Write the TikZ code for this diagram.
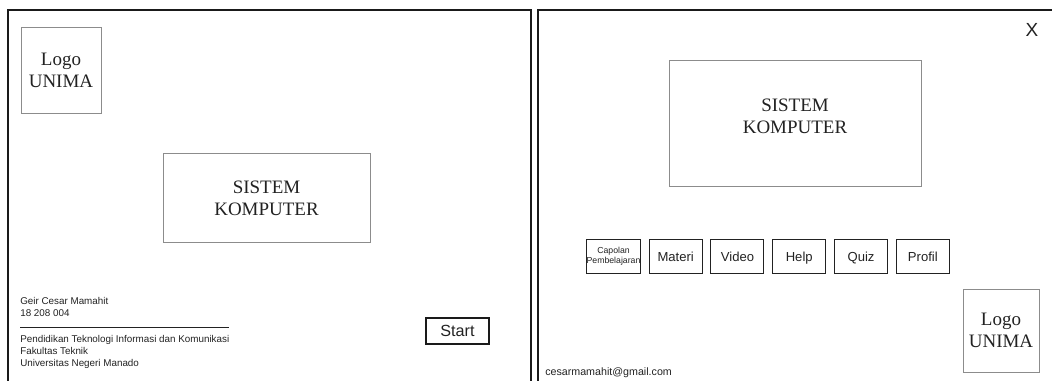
\documentclass[tikz,border=0pt]{standalone}
\usepackage{fontspec}
\setmainfont{Liberation Serif}
\setsansfont{Liberation Sans}
\usetikzlibrary{positioning}
\definecolor{frame}{HTML}{1A1A1A}
\definecolor{boxline}{HTML}{8C8C8C}
\definecolor{ink}{HTML}{222222}

\begin{document}
\begin{tikzpicture}[x=0.25mm,y=-0.25mm,
  panel/.style={frame,line width=1.4pt},
  pict/.style={draw=boxline,line width=0.6pt,inner sep=0pt,align=center,text=ink,font=\fontsize{13.5}{15.5}\selectfont},
  menubtn/.style={draw=ink,line width=0.7pt,inner sep=0pt,minimum width=13.25mm,minimum height=8.5mm,text height=1.85ex,text depth=0.2ex,font=\sffamily\fontsize{9.3}{10}\selectfont,text=ink},
  credit/.style={anchor=north west,inner sep=0pt,align=left,font=\sffamily\fontsize{7}{8.6}\selectfont,text=ink}]
  \useasboundingbox (0,0) rectangle (1052,381);

  % Opening screen
  \draw[panel] (8,381) -- (8,10) -- (531,10) -- (531,381);
  \node[pict,minimum width=20mm,minimum height=21.5mm] (logoL) at (61,70) {Logo\\UNIMA};
  \node[pict,minimum width=51.75mm,minimum height=22.25mm] (titleL) at (266.5,198) {SISTEM\\KOMPUTER};

  % Author and faculty
  \node[credit] (author) at (20,297) {Geir Cesar Mamahit\\18 208 004};
  \draw[ink,line width=0.6pt] (20,327) -- (229,327);
  \node[credit] (faculty) at (20,335) {Pendidikan Teknologi Informasi dan Komunikasi\\Fakultas Teknik\\Universitas Negeri Manado};

  \node[draw=frame,line width=1.3pt,inner sep=0pt,minimum width=15.75mm,minimum height=6.5mm,
        font=\sffamily\fontsize{11.5}{13}\selectfont,text=ink] (start) at (457.5,331) {Start};

  % Menu screen
  \draw[panel] (538,381) -- (538,10) -- (1052,10);
  \node[font=\sffamily\fontsize{13.5}{15}\selectfont,text=ink,inner sep=0pt] (close) at (1032,30) {X};
  \node[pict,minimum width=63mm,minimum height=31.5mm] (titleR) at (795,123) {};
  \node[pict,draw=none] (titleRtext) at (795,116) {SISTEM\\KOMPUTER};

  % Menu buttons
  \begin{scope}[node distance=1.95mm]
    \node[menubtn,align=center,text height=,text depth=,font=\sffamily\fontsize{6.2}{7.4}\selectfont] (capaian) at (613.5,256) {Capolan\\Pembelajaran};
    \node[menubtn,right=of capaian] (materi) {Materi};
    \node[menubtn,right=of materi] (video) {Video};
    \node[menubtn,right=of video] (help) {Help};
    \node[menubtn,right=of help] (quiz) {Quiz};
    \node[menubtn,right=of quiz] (profil) {Profil};
  \end{scope}

  \node[pict,minimum width=19mm,minimum height=20.75mm] (logoR) at (1001,330.5) {Logo\\UNIMA};
  \node[anchor=west,inner sep=0pt,font=\sffamily\fontsize{7.6}{9}\selectfont,text=ink] (email) at (545,373) {cesarmamahit@gmail.com};
\end{tikzpicture}
\end{document}
